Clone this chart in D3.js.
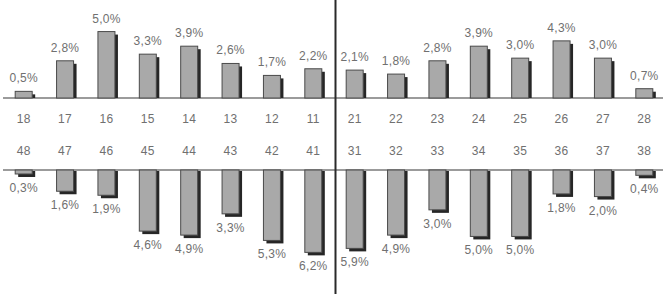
<!DOCTYPE html>
<html>
<head>
<meta charset="utf-8">
<script src="https://cdn.jsdelivr.net/npm/d3@7"></script>
<style>
  body { margin: 0; background: #fff; }
  text { font-family: "Liberation Sans", Arial, sans-serif; }
</style>
</head>
<body>
<svg id="chart" width="668" height="294"></svg>
<script>
// upper jaw (top panel) and lower jaw (bottom panel)
const upper_teeth = ["18", "17", "16", "15", "14", "13", "12", "11", "21", "22", "23", "24", "25", "26", "27", "28"]
const upper_values = [0.5, 2.8, 5.0, 3.3, 3.9, 2.6, 1.7, 2.2, 2.1, 1.8, 2.8, 3.9, 3.0, 4.3, 3.0, 0.7]
const lower_teeth = ["48", "47", "46", "45", "44", "43", "42", "41", "31", "32", "33", "34", "35", "36", "37", "38"]
const lower_values = [0.3, 1.6, 1.9, 4.6, 4.9, 3.3, 5.3, 6.2, 5.9, 4.9, 3.0, 5.0, 5.0, 1.8, 2.0, 0.4]

const width = 668
const height = 294
const top_base = 98
const bottom_base = 170
const bar_w = 17
const shadow = 3
const text_color = "#707070"

const svg = d3.select("#chart")

const x = d3.scaleBand()
    .domain(d3.range(upper_teeth.length))
    .range([3, 665])

const y = d3.scaleLinear()
    .domain([0, 7])
    .range([0, 93])

const fmt = v => d3.format(".1f")(v).replace(".", ",") + "%"
const cx = i => x(i) + x.bandwidth() / 2

function label(sel) {
    sel.attr("text-anchor", "middle")
        .attr("font-size", "12px")
        .attr("letter-spacing", "0.3px")
        .attr("fill", text_color)
}

// baselines
svg.append("line")
    .attr("x1", 3).attr("x2", 663)
    .attr("y1", top_base).attr("y2", top_base)
    .attr("stroke", "#7a7a7a").attr("stroke-width", 1.5)
svg.append("line")
    .attr("x1", 3).attr("x2", 663)
    .attr("y1", bottom_base).attr("y2", bottom_base)
    .attr("stroke", "#7a7a7a").attr("stroke-width", 1.5)

// upper bars
const up = svg.append("g").attr("class", "upper")
up.selectAll("rect.shadow")
    .data(upper_values)
    .join("rect")
    .attr("class", "shadow")
    .attr("x", (d, i) => cx(i) - bar_w / 2 + shadow)
    .attr("y", d => top_base - y(d) + shadow)
    .attr("width", bar_w)
    .attr("height", d => Math.max(0, y(d) - shadow))
    .attr("fill", "#262626")
up.selectAll("rect.bar")
    .data(upper_values)
    .join("rect")
    .attr("class", "bar")
    .attr("x", (d, i) => cx(i) - bar_w / 2)
    .attr("y", d => top_base - y(d))
    .attr("width", bar_w)
    .attr("height", d => y(d))
    .attr("fill", "#a9a9a9")
    .attr("stroke", "#4a4a4a")
    .attr("stroke-width", 1)
up.selectAll("text")
    .data(upper_values)
    .join("text")
    .attr("x", (d, i) => cx(i))
    .attr("y", d => top_base - y(d) - 9)
    .call(label)
    .text(d => fmt(d))

// lower bars
const low = svg.append("g").attr("class", "lower")
low.selectAll("rect.shadow")
    .data(lower_values)
    .join("rect")
    .attr("class", "shadow")
    .attr("x", (d, i) => cx(i) - bar_w / 2 + shadow)
    .attr("y", bottom_base + 1)
    .attr("width", bar_w)
    .attr("height", d => y(d) + shadow - 1)
    .attr("fill", "#262626")
low.selectAll("rect.bar")
    .data(lower_values)
    .join("rect")
    .attr("class", "bar")
    .attr("x", (d, i) => cx(i) - bar_w / 2)
    .attr("y", bottom_base)
    .attr("width", bar_w)
    .attr("height", d => y(d))
    .attr("fill", "#a9a9a9")
    .attr("stroke", "#4a4a4a")
    .attr("stroke-width", 1)
low.selectAll("text")
    .data(lower_values)
    .join("text")
    .attr("x", (d, i) => cx(i))
    .attr("y", d => bottom_base + y(d) + 18)
    .call(label)
    .text(d => fmt(d))

// tooth numbers
svg.append("g").selectAll("text")
    .data(upper_teeth)
    .join("text")
    .attr("x", (d, i) => cx(i))
    .attr("y", 123)
    .call(label)
    .text(d => d)
svg.append("g").selectAll("text")
    .data(lower_teeth)
    .join("text")
    .attr("x", (d, i) => cx(i))
    .attr("y", 155)
    .call(label)
    .text(d => d)

// midline between left and right side
const mid = x(8) + 1.5
svg.append("line")
    .attr("x1", mid).attr("x2", mid)
    .attr("y1", 0).attr("y2", height)
    .attr("stroke", "#2a2a2a").attr("stroke-width", 2)
</script>
</body>
</html>
